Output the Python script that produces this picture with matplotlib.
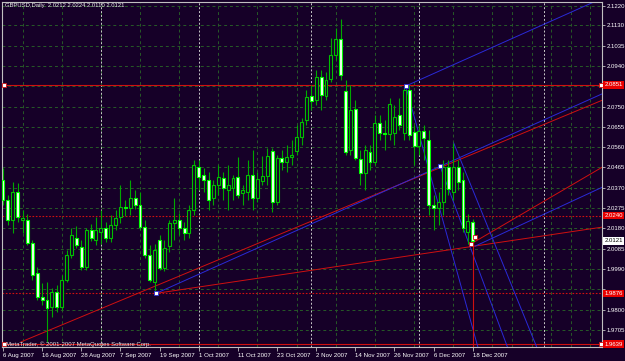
import numpy as np
import matplotlib
matplotlib.use("Agg")
import matplotlib.pyplot as plt
import matplotlib.transforms as mtransforms

plt.rcParams['font.family'] = ['Liberation Sans', 'DejaVu Sans']

# ==========================================================
# Data (GBPUSD daily, 6 Aug 2007 .. 18 Dec 2007)

opens = [2.0406, 2.0313, 2.0219, 2.0350, 2.0219, 2.0219, 2.0112, 1.9971, 1.9859, 1.9845,
         1.9812, 1.9882, 1.9812, 1.9939, 2.0056, 2.0135, 2.0093, 1.9999, 2.0172, 2.0126,
         2.0163, 2.0182, 2.0135, 2.0196, 2.0233, 2.0280, 2.0275, 2.0322, 2.0289, 2.0186,
         2.0056, 1.9930, 2.0126, 1.9995, 2.0098, 2.0205, 2.0219, 2.0182, 2.0158, 2.0266,
         2.0467, 2.0430, 2.0406, 2.0322, 2.0383, 2.0416, 2.0360, 2.0369, 2.0420, 2.0345,
         2.0350, 2.0430, 2.0322, 2.0402, 2.0425, 2.0542, 2.0303, 2.0509, 2.0490, 2.0514,
         2.0542, 2.0607, 2.0687, 2.0799, 2.0780, 2.0888, 2.0799, 2.0879, 2.0991, 2.1066,
         2.0823, 2.0547, 2.0738, 2.0505, 2.0439, 2.0537, 2.0490, 2.0673, 2.0626, 2.0622,
         2.0626, 2.0710, 2.0626, 2.0827, 2.0631, 2.0565, 2.0636, 2.0593, 2.0289, 2.0275,
         2.0303, 2.0467, 2.0350, 2.0467, 2.0406, 2.0163, 2.0212]

highs = [2.0461, 2.0336, 2.0397, 2.0392, 2.0266, 2.0247, 2.0126, 2.0000, 1.9925, 1.9930,
         1.9901, 1.9915, 1.9962, 2.0079, 2.0182, 2.0191, 2.0126, 2.0182, 2.0200, 2.0233,
         2.0266, 2.0210, 2.0243, 2.0266, 2.0383, 2.0313, 2.0406, 2.0360, 2.0350, 2.0219,
         2.0100, 2.0107, 2.0149, 2.0126, 2.0219, 2.0322, 2.0252, 2.0210, 2.0289, 2.0500,
         2.0500, 2.0461, 2.0444, 2.0406, 2.0477, 2.0444, 2.0477, 2.0430, 2.0514, 2.0383,
         2.0500, 2.0547, 2.0444, 2.0519, 2.0556, 2.0556, 2.0523, 2.0547, 2.0570, 2.0593,
         2.0664, 2.0696, 2.0827, 2.0850, 2.0921, 2.0921, 2.0911, 2.1070, 2.1117, 2.1159,
         2.0874, 2.0850, 2.0780, 2.0547, 2.0570, 2.0570, 2.0710, 2.0710, 2.0687, 2.0790,
         2.0757, 2.0790, 2.0846, 2.0850, 2.0664, 2.0664, 2.0664, 2.0640, 2.0336, 2.0350,
         2.0500, 2.0500, 2.0579, 2.0500, 2.0444, 2.0247, 2.0224]

lows = [2.0290, 2.0196, 2.0158, 2.0210, 2.0158, 2.0100, 1.9939, 1.9845, 1.9820, 1.9649,
        1.9765, 1.9790, 1.9798, 1.9930, 2.0042, 2.0090, 1.9985, 1.9985, 2.0120, 2.0100,
        2.0107, 2.0116, 2.0116, 2.0172, 2.0205, 2.0240, 2.0243, 2.0270, 2.0172, 2.0042,
        1.9930, 1.9883, 1.9985, 1.9980, 2.0070, 2.0126, 2.0149, 2.0126, 2.0135, 2.0243,
        2.0360, 2.0350, 2.0266, 2.0290, 2.0336, 2.0313, 2.0266, 2.0313, 2.0322, 2.0290,
        2.0313, 2.0266, 2.0303, 2.0383, 2.0383, 2.0257, 2.0290, 2.0453, 2.0444, 2.0477,
        2.0523, 2.0570, 2.0664, 2.0734, 2.0757, 2.0734, 2.0780, 2.0865, 2.0968, 2.0874,
        2.0523, 2.0523, 2.0500, 2.0383, 2.0360, 2.0453, 2.0476, 2.0593, 2.0547, 2.0593,
        2.0570, 2.0640, 2.0593, 2.0593, 2.0477, 2.0523, 2.0500, 2.0243, 2.0172, 2.0196,
        2.0243, 2.0336, 2.0313, 2.0360, 2.0163, 2.0107, 2.0110]

closes = [2.0313, 2.0219, 2.0350, 2.0233, 2.0228, 2.0112, 1.9962, 1.9859, 1.9845, 1.9808,
          1.9882, 1.9812, 1.9939, 2.0056, 2.0149, 2.0103, 1.9999, 2.0172, 2.0135, 2.0172,
          2.0182, 2.0135, 2.0196, 2.0229, 2.0280, 2.0275, 2.0322, 2.0289, 2.0186, 2.0056,
          1.9939, 2.0079, 1.9995, 2.0089, 2.0205, 2.0219, 2.0182, 2.0158, 2.0266, 2.0477,
          2.0420, 2.0406, 2.0313, 2.0383, 2.0420, 2.0369, 2.0383, 2.0416, 2.0336, 2.0360,
          2.0430, 2.0322, 2.0411, 2.0425, 2.0519, 2.0303, 2.0509, 2.0490, 2.0514, 2.0523,
          2.0607, 2.0678, 2.0795, 2.0776, 2.0888, 2.0804, 2.0874, 2.0991, 2.1066, 2.0897,
          2.0538, 2.0734, 2.0509, 2.0439, 2.0547, 2.0490, 2.0673, 2.0626, 2.0622, 2.0762,
          2.0701, 2.0664, 2.0827, 2.0617, 2.0565, 2.0636, 2.0603, 2.0289, 2.0275, 2.0303,
          2.0467, 2.0364, 2.0467, 2.0397, 2.0182, 2.0214, 2.0121]

date_labels = ["6 Aug 2007", "16 Aug 2007", "28 Aug 2007", "7 Sep 2007", "19 Sep 2007",
               "1 Oct 2007", "11 Oct 2007", "23 Oct 2007", "2 Nov 2007", "14 Nov 2007",
               "26 Nov 2007", "6 Dec 2007", "18 Dec 2007"]
date_label_bars = [0, 8, 16, 24, 32, 40, 48, 56, 64, 72, 80, 88, 96]

price_ticks = [2.1220, 2.1130, 2.1035, 2.0940, 2.0845, 2.0750, 2.0655, 2.0560, 2.0465,
               2.0370, 2.0275, 2.0180, 2.0085, 1.9990, 1.9895, 1.9800, 1.9705]
# these two sit under the red price boxes and are not seen
hidden_ticks = [2.0845, 1.9895]

# month separators (bar index)
separators = [20, 40, 63, 85, 110.5]

# horizontal price lines: (price, style, label)
hlines = [(2.0851, "solid", "2.0851"),
          (2.0240, "dotted", "2.0240"),
          (1.9876, "dotted", "1.9876"),
          (1.9639, "solid", "1.9639")]

# trend lines as (bar0, price0, bar1, price1)
red_lines = [(3.7, 1.9649, 122.5, 2.0780),
             (31.3, 1.9876, 122.5, 2.0186),
             (95.6, 2.0107, 122.5, 2.0467)]
blue_lines = [(31.3, 1.9876, 122.5, 2.0810),
              (82.3, 2.0846, 122.5, 2.1257),
              (96.5, 2.0097, 122.5, 2.0373),
              (82.3, 2.0846, 97.2, 1.9611),
              (89.3, 2.0472, 103.3, 1.9611),
              (92.1, 2.0579, 109.3, 1.9611)]
blue_anchors = [(31.3, 1.9876), (82.3, 2.0846), (89.3, 2.0472)]
red_anchors = [(0.2, 2.0851), (122.1, 2.0851), (0.2, 1.9639), (122.1, 1.9639),
               (95.6, 2.0107), (96.5, 2.0140)]

symbol_title = "GBPUSD,Daily  2.0212 2.0224 2.0110 2.0121"
last_price = 2.0121

# ==========================================================
# Style

BG = "#160028"
GRID = "#275a27"
AXIS = "#c0c0c0"
RED = "#d01010"
BLUE = "#2a2ad8"
FS = 4.3

fig = plt.figure(figsize=(6.25, 3.61), dpi=100, facecolor=BG)
ax = fig.add_axes([2 / 625, 14 / 361, 600 / 625, 345 / 361], facecolor=BG)

ax.set_xlim(-0.2, 122.4)
ax.set_ylim(1.9625, 2.1239)

# grid
ax.set_xticks(np.arange(0, 123, 4), minor=True)
ax.set_xticks(date_label_bars)
ax.set_xticklabels(date_labels, ha="left")
ax.set_yticks(price_ticks)
ax.set_yticklabels(["" if p in hidden_ticks else f"{p:.4f}" for p in price_ticks])
ax.grid(which="minor", axis="x", color=GRID, ls=(0, (3, 3)), lw=0.7)
ax.grid(which="major", axis="y", color=GRID, ls=(0, (3, 3)), lw=0.7)
ax.set_axisbelow(True)

for s in separators:
    ax.axvline(s, color="#c8c8c8", ls=(0, (2, 2)), lw=0.7, zorder=1)

ax.yaxis.tick_right()
ax.tick_params(axis="y", colors=AXIS, labelcolor="white", labelsize=FS,
               length=2, width=0.6, pad=1.2)
ax.tick_params(axis="x", which="major", colors=AXIS, labelcolor="white",
               labelsize=4.4, length=3, width=0.6, pad=1)
ax.tick_params(axis="x", which="minor", length=0)
for sp in ax.spines.values():
    sp.set_color(AXIS)
    sp.set_linewidth(0.8)

# ----------------------------
# Candles

o = np.array(opens)
h = np.array(highs)
l = np.array(lows)
c = np.array(closes)
idx = np.arange(len(o))
bull = c >= o
bear = ~bull

ax.vlines(idx, l, h, color="#00a800", lw=0.8, zorder=3)
ax.bar(idx[bull], c[bull] - o[bull], bottom=o[bull], width=0.6,
       facecolor=BG, edgecolor="#00c000", lw=0.8, zorder=4)
ax.bar(idx[bear], o[bear] - c[bear], bottom=c[bear], width=0.6,
       facecolor="#f4fff4", edgecolor="#00ff00", lw=0.8, zorder=4)

# ----------------------------
# Objects

for price, style, label in hlines:
    ls = "-" if style == "solid" else (0, (1.5, 1.5))
    ax.axhline(price, color=RED, lw=0.8, ls=ls, zorder=2)

for x0, y0, x1, y1 in red_lines:
    ax.plot([x0, x1], [y0, y1], color=RED, lw=0.7, zorder=2)
for x0, y0, x1, y1 in blue_lines:
    ax.plot([x0, x1], [y0, y1], color=BLUE, lw=0.7, zorder=2)

ax.plot([idx[-1], idx[-1]], [l[-1], 1.9625], color=RED, lw=0.8, zorder=2)

ax.plot([a[0] for a in red_anchors], [a[1] for a in red_anchors], ls="none",
        marker="s", ms=2.4, mfc="white", mec=RED, mew=0.6, zorder=6, clip_on=False)
ax.plot([a[0] for a in blue_anchors], [a[1] for a in blue_anchors], ls="none",
        marker="s", ms=2.4, mfc="white", mec=BLUE, mew=0.6, zorder=6, clip_on=False)

# ----------------------------
# Texts

trans = mtransforms.blended_transform_factory(ax.transAxes, ax.transData)
for price, style, label in hlines:
    ax.text(1.004, price, label, transform=trans, ha="left", va="center",
            fontsize=FS, color="white", zorder=10, clip_on=False,
            bbox=dict(boxstyle="square,pad=0.2", fc="#e80000", ec="none"))
ax.text(1.004, last_price, f"{last_price:.4f}", transform=trans, ha="left",
        va="center", fontsize=FS, color="black", zorder=10, clip_on=False,
        bbox=dict(boxstyle="square,pad=0.2", fc="white", ec="none"))

fig.text(5 / 625, 1 - 6 / 361, symbol_title, fontsize=4.2, color="#e8e8e8",
         va="center", ha="left")
ax.text(0.006, 1.9639, "MetaTrader, \u00a9 2001-2007 MetaQuotes Software Corp.",
        transform=trans, fontsize=4.3, color="#e8e8e8", va="center", ha="left",
        zorder=7)

fig.savefig("out.png", dpi=100, facecolor=BG)
